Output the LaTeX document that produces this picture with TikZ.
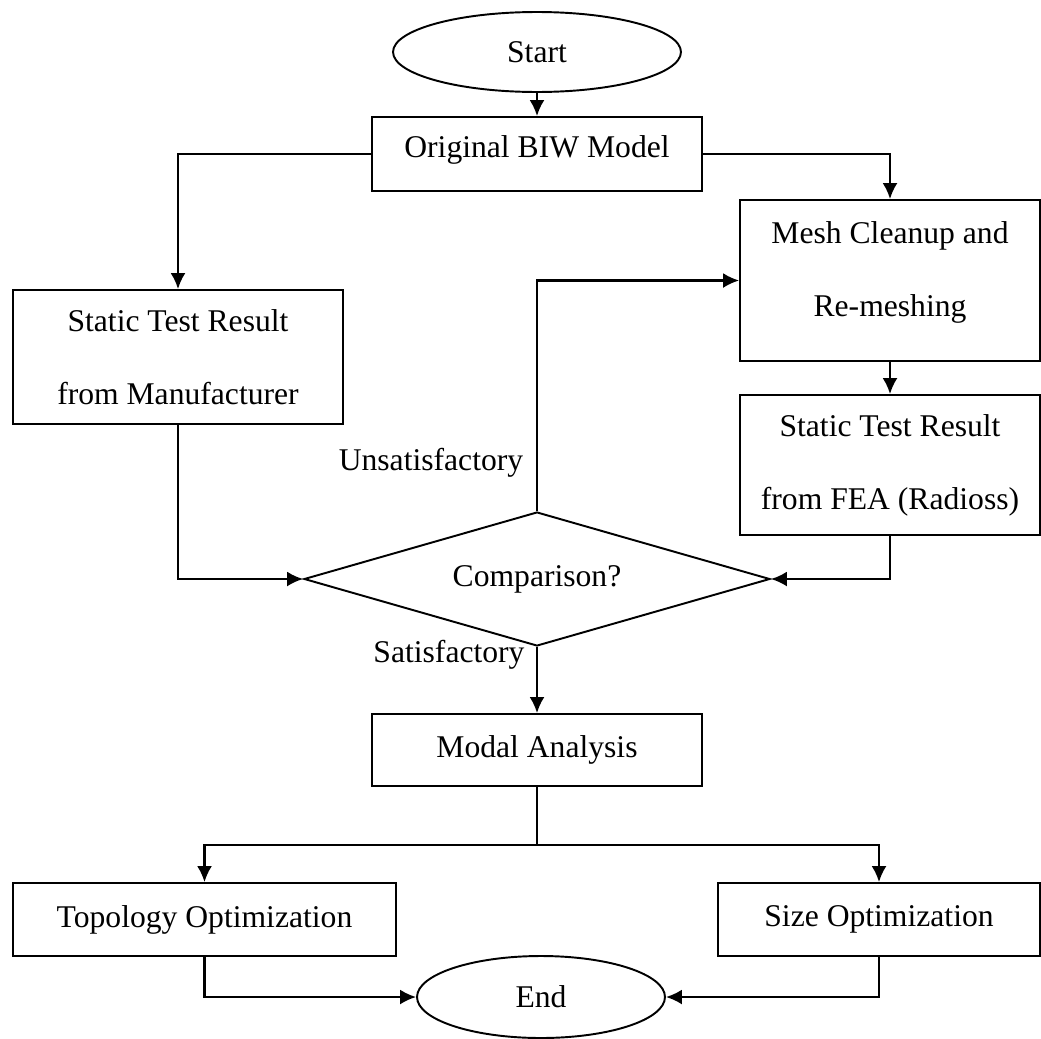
\documentclass[tikz,border=0pt]{standalone}
\usepackage{fontspec}
\setmainfont{Liberation Serif}
\usetikzlibrary{shapes.geometric, arrows.meta}

\begin{document}
\begin{tikzpicture}[x=0.02cm, y=-0.02cm, line width=1.1pt,
    >={Latex[length=0.32cm, width=0.3cm]},
    every node/.style={font=\fontsize{18}{41.5}\selectfont},
    box/.style={draw, rectangle, inner sep=0pt, align=center},
    term/.style={draw, ellipse, inner sep=0pt},
    flow/.style={->, line width=1.3pt}]
    \useasboundingbox (0,0) rectangle (1041,1038);

    \node[term, minimum width=5.76cm, minimum height=1.6cm] (start) at (537,52) {Start};
    \node[box, minimum width=6.6cm, minimum height=1.48cm, text depth=0.3cm] (orig) at (537,154) {Original BIW Model};
    \node[box, minimum width=6.6cm, minimum height=2.68cm] (manu) at (178,357) {Static Test Result\\from Manufacturer};
    \node[box, minimum width=6cm, minimum height=3.22cm, text depth=0.46cm] (mesh) at (890,280.5) {Mesh Cleanup and\\Re-meshing};
    \node[box, minimum width=6cm, minimum height=2.8cm] (fea) at (890,465) {Static Test Result\\from FEA (Radioss)};
    \node[draw, diamond, aspect=3.5, minimum width=9.32cm, minimum height=2.68cm, inner sep=0pt] (cmp) at (537,579) {Comparison?};
    \node[box, minimum width=6.6cm, minimum height=1.44cm] (modal) at (537,750) {Modal Analysis};
    \node[box, minimum width=7.66cm, minimum height=1.46cm] (topo) at (204.5,919.5) {Topology Optimization};
    \node[box, minimum width=6.44cm, minimum height=1.46cm] (size) at (879,919.5) {Size Optimization};
    \node[term, minimum width=4.96cm, minimum height=1.64cm] (finish) at (541,997) {End};
    \node (unsat) at (431,463) {Unsatisfactory};
    \node (sat) at (449,655) {Satisfactory};
    \coordinate (split) at (537,845);

    % main flow
    \draw[flow] (start) -- (orig);
    \draw[flow] (orig.west) -| (manu.north);
    \draw[flow] (orig.east) -| (mesh.north);
    \draw[flow] (mesh) -- (fea);
    \draw[flow] (manu.south) |- (cmp.west);
    \draw[flow] (fea.south) |- (cmp.east);
    \draw[flow] (cmp.north) |- (mesh.west);
    \draw[flow] (cmp) -- (modal);
    % split to the two optimizations
    \draw[line width=1.3pt] (modal.south) -- (split);
    \draw[flow] (split) -| (topo.north);
    \draw[flow] (split) -| (size.north);
    \draw[flow] (topo.south) |- (finish.west);
    \draw[flow] (size.south) |- (finish.east);
\end{tikzpicture}
\end{document}
